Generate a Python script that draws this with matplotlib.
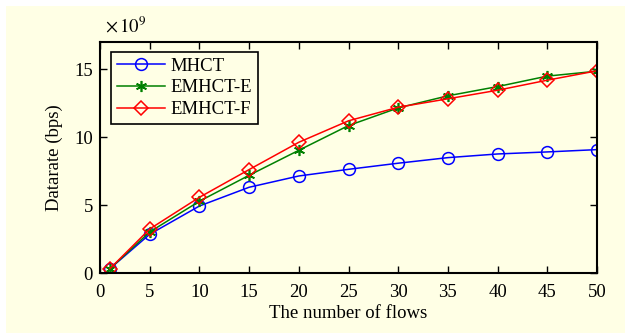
import matplotlib
matplotlib.use("Agg")
import matplotlib.pyplot as plt
from matplotlib.patches import Rectangle

# number of flows
flows = [1, 5, 10, 15, 20, 25, 30, 35, 40, 45, 50]
# datarate in units of 1e9 bps
mhct = [0.32, 2.85, 4.93, 6.31, 7.14, 7.63, 8.08, 8.49, 8.76, 8.91, 9.08]
emhct_e = [0.32, 3.02, 5.28, 7.19, 9.03, 10.85, 12.15, 13.04, 13.72, 14.49, 14.85]
emhct_f = [0.32, 3.24, 5.57, 7.61, 9.62, 11.2, 12.2, 12.82, 13.45, 14.19, 14.88]
xticks = [0, 5, 10, 15, 20, 25, 30, 35, 40, 45, 50]
yticks = [0, 5, 10, 15]

plt.rcParams['font.family'] = ['Liberation Serif', 'DejaVu Serif']
plt.rcParams['mathtext.fontset'] = 'stix'
plt.rcParams['font.size'] = 13.5

bg = '#FFFFE5'
fig = plt.figure(figsize=(6.3, 3.33), dpi=100, facecolor='white')
fig.patches.append(Rectangle((6 / 630, 0), 619 / 630, 327 / 333,
                             transform=fig.transFigure, facecolor=bg,
                             edgecolor='none', zorder=-10))

ax = fig.add_axes([100 / 630, 1 - 273 / 333, 497 / 630, 231 / 333])
ax.set_facecolor(bg)

ax.plot(flows, mhct, color='#0000FF', marker='o', markersize=8.5,
        markerfacecolor='none', markeredgewidth=1.1, linewidth=1.1, label='MHCT')
ax.plot(flows, emhct_e, color='#008000', marker=(6, 2, 0), markersize=8,
        markeredgewidth=1.2, linewidth=1.1, label='EMHCT-E')
ax.plot(flows, emhct_f, color='#FF0000', marker='D', markersize=7,
        markerfacecolor='none', markeredgewidth=1.1, linewidth=1.1, label='EMHCT-F')

ax.set_xlim(0, 50)
ax.set_ylim(0, 17)
ax.set_xticks(xticks)
ax.set_yticks(yticks)
ax.tick_params(direction='in', top=True, right=True, length=5, width=1, pad=5)
ax.tick_params(axis='x', pad=8)
for s in ax.spines.values():
    s.set_linewidth(1.5)

ax.set_xlabel('The number of flows', labelpad=3)
ax.set_ylabel('Datarate (bps)', labelpad=8)
ax.text(0.01, 1.025, r'$\times\,10^{9}$', transform=ax.transAxes,
        ha='left', va='bottom', fontsize=13.5)

leg = ax.legend(loc='upper left', bbox_to_anchor=(0.022, 0.957), borderaxespad=0,
                handlelength=2.6, fancybox=False, edgecolor='black', framealpha=1,
                facecolor=bg, borderpad=0.3, labelspacing=0.25, handletextpad=0.3)
leg.get_frame().set_linewidth(1.2)

fig.savefig('out.png', dpi=100, facecolor=fig.get_facecolor())
